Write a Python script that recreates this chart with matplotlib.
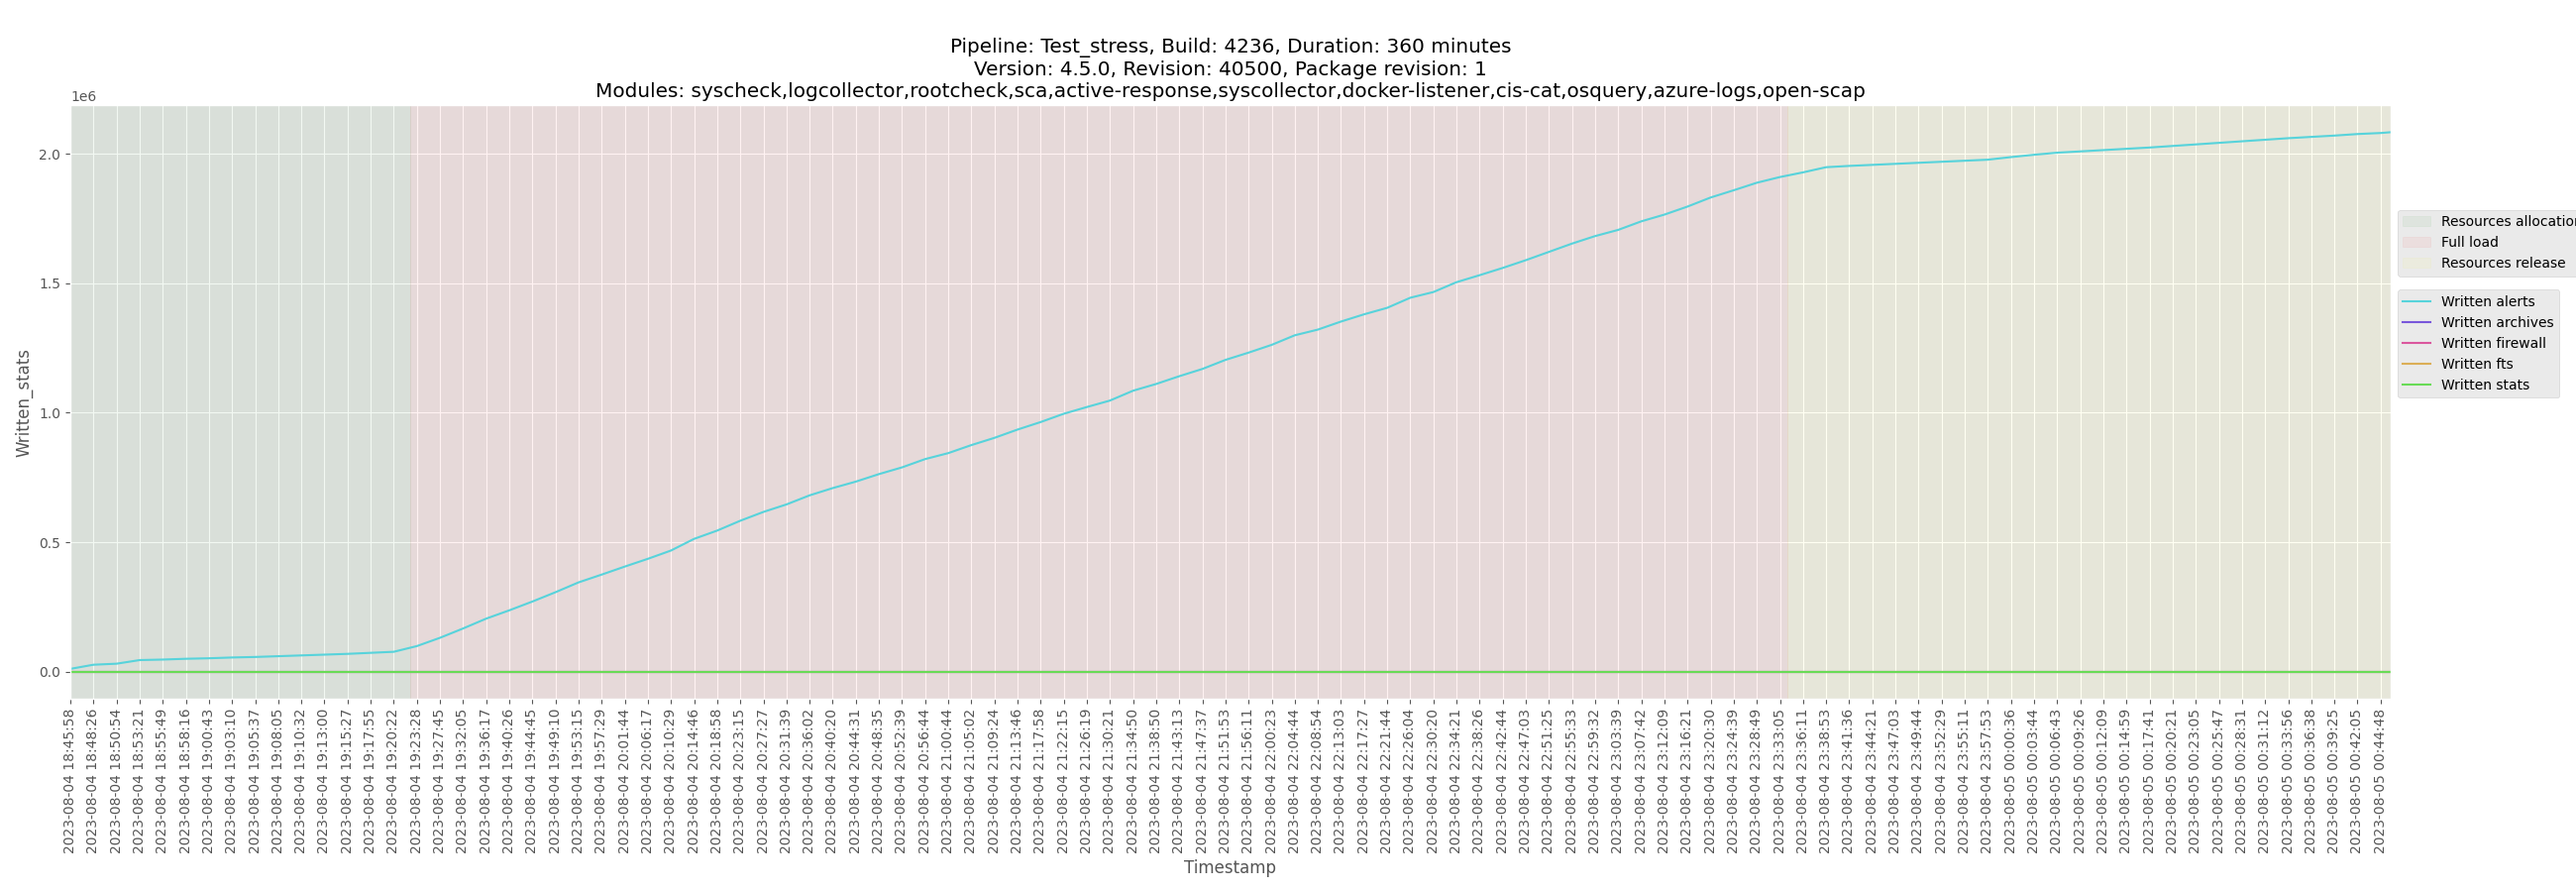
# Written stats during a stress test, one line per counter

import numpy as np
import pandas as pd
from matplotlib import pyplot as plt


TITLE = ("Pipeline: Test_stress, Build: 4236, Duration: 360 minutes\n"
         "Version: 4.5.0, Revision: 40500, Package revision: 1\n"
         "Modules: syscheck,logcollector,rootcheck,sca,active-response,"
         "syscollector,docker-listener,cis-cat,osquery,azure-logs,open-scap")

timestamps = [
    "2023-08-04 18:45:58", "2023-08-04 18:48:26", "2023-08-04 18:50:54",
    "2023-08-04 18:53:21", "2023-08-04 18:55:49", "2023-08-04 18:58:16",
    "2023-08-04 19:00:43", "2023-08-04 19:03:10", "2023-08-04 19:05:37",
    "2023-08-04 19:08:05", "2023-08-04 19:10:32", "2023-08-04 19:13:00",
    "2023-08-04 19:15:27", "2023-08-04 19:17:55", "2023-08-04 19:20:22",
    "2023-08-04 19:23:28", "2023-08-04 19:27:45", "2023-08-04 19:32:05",
    "2023-08-04 19:36:17", "2023-08-04 19:40:26", "2023-08-04 19:44:45",
    "2023-08-04 19:49:10", "2023-08-04 19:53:15", "2023-08-04 19:57:29",
    "2023-08-04 20:01:44", "2023-08-04 20:06:17", "2023-08-04 20:10:29",
    "2023-08-04 20:14:46", "2023-08-04 20:18:58", "2023-08-04 20:23:15",
    "2023-08-04 20:27:27", "2023-08-04 20:31:39", "2023-08-04 20:36:02",
    "2023-08-04 20:40:20", "2023-08-04 20:44:31", "2023-08-04 20:48:35",
    "2023-08-04 20:52:39", "2023-08-04 20:56:44", "2023-08-04 21:00:44",
    "2023-08-04 21:05:02", "2023-08-04 21:09:24", "2023-08-04 21:13:46",
    "2023-08-04 21:17:58", "2023-08-04 21:22:15", "2023-08-04 21:26:19",
    "2023-08-04 21:30:21", "2023-08-04 21:34:50", "2023-08-04 21:38:50",
    "2023-08-04 21:43:13", "2023-08-04 21:47:37", "2023-08-04 21:51:53",
    "2023-08-04 21:56:11", "2023-08-04 22:00:23", "2023-08-04 22:04:44",
    "2023-08-04 22:08:54", "2023-08-04 22:13:03", "2023-08-04 22:17:27",
    "2023-08-04 22:21:44", "2023-08-04 22:26:04", "2023-08-04 22:30:20",
    "2023-08-04 22:34:21", "2023-08-04 22:38:26", "2023-08-04 22:42:44",
    "2023-08-04 22:47:03", "2023-08-04 22:51:25", "2023-08-04 22:55:33",
    "2023-08-04 22:59:32", "2023-08-04 23:03:39", "2023-08-04 23:07:42",
    "2023-08-04 23:12:09", "2023-08-04 23:16:21", "2023-08-04 23:20:30",
    "2023-08-04 23:24:39", "2023-08-04 23:28:49", "2023-08-04 23:33:05",
    "2023-08-04 23:36:11", "2023-08-04 23:38:53", "2023-08-04 23:41:36",
    "2023-08-04 23:44:21", "2023-08-04 23:47:03", "2023-08-04 23:49:44",
    "2023-08-04 23:52:29", "2023-08-04 23:55:11", "2023-08-04 23:57:53",
    "2023-08-05 00:00:36", "2023-08-05 00:03:44", "2023-08-05 00:06:43",
    "2023-08-05 00:09:26", "2023-08-05 00:12:09", "2023-08-05 00:14:59",
    "2023-08-05 00:17:41", "2023-08-05 00:20:21", "2023-08-05 00:23:05",
    "2023-08-05 00:25:47", "2023-08-05 00:28:31", "2023-08-05 00:31:12",
    "2023-08-05 00:33:56", "2023-08-05 00:36:38", "2023-08-05 00:39:25",
    "2023-08-05 00:42:05", "2023-08-05 00:44:48",
]
test_end = "2023-08-05 00:45:58"

# written alerts, one value per timestamp (plus the last sample at test_end)
written_alerts = [
    11000, 27000, 31000, 45000, 47000, 50000, 52000, 55000, 57000, 60000,
    63000, 66000, 69000, 73000, 77000, 99000, 131000, 167000, 205000, 237000,
    271000, 307000, 345000, 375000, 406000, 436000, 468000, 513000, 545000, 583000,
    617000, 646000, 681000, 709000, 734000, 763000, 789000, 821000, 844000, 875000,
    903000, 935000, 964000, 996000, 1022000, 1047000, 1085000, 1111000, 1141000, 1169000,
    1204000, 1232000, 1262000, 1299000, 1321000, 1352000, 1380000, 1405000, 1444000, 1466000,
    1504000, 1531000, 1559000, 1589000, 1621000, 1653000, 1682000, 1706000, 1739000, 1765000,
    1796000, 1831000, 1859000, 1888000, 1910000, 1928000, 1948000, 1953000, 1957000, 1961000,
    1965000, 1969000, 1973000, 1977000, 1987000, 1996000, 2004000, 2009000, 2014000, 2019000,
    2024000, 2030000, 2036000, 2042000, 2048000, 2054000, 2060000, 2065000, 2070000, 2076000,
    2080000, 2083000,
]
# the other counters stay at zero for the whole run
written_archives = [0] * len(written_alerts)
written_firewall = [0] * len(written_alerts)
written_fts = [0] * len(written_alerts)
written_stats = [0] * len(written_alerts)

series_names = ["Written alerts", "Written archives", "Written firewall",
                "Written fts", "Written stats"]
series_colors = ["#57d3db", "#7957db", "#db579e", "#dbae57", "#69db57"]

phase_names = ["Resources allocation", "Full load", "Resources release"]
phase_starts = ["2023-08-04 18:45:58", "2023-08-04 19:22:32", "2023-08-04 23:34:01"]
phase_colors = ["green", "red", "yellow"]


def func_time_to_pos(stamps, times):
    """
    Position of times on the sample axis (one unit per timestamp)
    """
    ref = pd.to_datetime(pd.Series(stamps)).astype("int64").to_numpy() / 1e9
    t = pd.to_datetime(pd.Series(times)).astype("int64").to_numpy() / 1e9
    idx = np.arange(len(ref))
    pos = np.interp(t, ref, idx)
    after = t > ref[-1]
    pos[after] = idx[-1] + (t[after] - ref[-1]) / (ref[-1] - ref[-2])
    return pos


def func_plot(ax):
    """
    Draw phases, counters and legends
    """
    x = func_time_to_pos(timestamps, timestamps + [test_end])
    end_pos = x[-1]

    bounds = list(func_time_to_pos(timestamps, phase_starts)) + [end_pos]
    spans = []
    for i, name in enumerate(phase_names):
        spans.append(ax.axvspan(bounds[i], bounds[i + 1], color=phase_colors[i],
                                alpha=0.05, label=name))

    lines = []
    for values, name, color in zip(
            [written_alerts, written_archives, written_firewall, written_fts, written_stats],
            series_names, series_colors):
        line, = ax.plot(x, values, color=color, lw=1.5, label=name)
        lines.append(line)

    ax.set_xlim(0, end_pos)
    ax.set_xticks(np.arange(len(timestamps)))
    ax.set_xticklabels(timestamps, rotation=90)
    ax.set_xlabel("Timestamp")
    ax.set_ylabel("Written_stats")
    ax.set_title(TITLE)

    leg1 = ax.legend(handles=spans, loc="center left", bbox_to_anchor=(1, 0.768))
    ax.add_artist(leg1)
    ax.legend(handles=lines, loc="center left", bbox_to_anchor=(1, 0.598))


if __name__ == "__main__":
    plt.style.use("ggplot")
    fig, ax = plt.subplots(figsize=(26, 9), dpi=100)
    fig.subplots_adjust(left=0.0273, right=0.928, top=0.882, bottom=0.2167)
    func_plot(ax)
    fig.savefig("out.png", dpi=100)
